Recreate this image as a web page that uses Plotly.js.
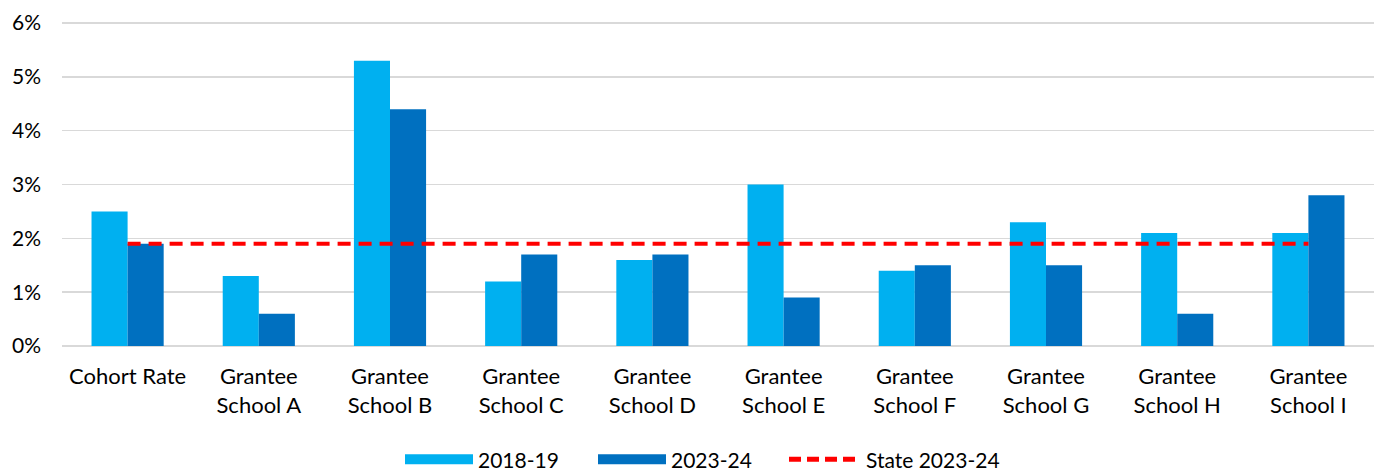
<!DOCTYPE html>
<html>
<head>
<meta charset="utf-8">
<script src="https://cdn.plot.ly/plotly-3.0.1.min.js"></script>
<style>html,body{margin:0;padding:0;background:#fff}#chart{width:1374px;height:471px}</style>
</head>
<body>
<div id="chart"></div>
<script>
const categories = ["Cohort Rate","Grantee<br>School A","Grantee<br>School B","Grantee<br>School C","Grantee<br>School D","Grantee<br>School E","Grantee<br>School F","Grantee<br>School G","Grantee<br>School H","Grantee<br>School I"];
const rate2018 = [2.5, 1.3, 5.3, 1.2, 1.6, 3.0, 1.4, 2.3, 2.1, 2.1];
const rate2023 = [1.9, 0.6, 4.4, 1.7, 1.7, 0.9, 1.5, 1.5, 0.6, 2.8];
const stateRate = 1.9;
const seriesNames = ["2018-19", "2023-24", "State 2023-24"];
const yTicks = [0, 1, 2, 3, 4, 5, 6];
const yTickLabels = ["0%","1%","2%","3%","4%","5%","6%"];

const lightBlue = "#00B0F0", darkBlue = "#0070C0", red = "#FF0000";
const font = "Lato, 'Open Sans', sans-serif";

const traces = [
  {type:"bar", x:categories, y:rate2018, name:seriesNames[0], marker:{color:lightBlue}, showlegend:false, hoverinfo:"y"},
  {type:"bar", x:categories, y:rate2023, name:seriesNames[1], marker:{color:darkBlue}, showlegend:false, hoverinfo:"y"},
  {type:"scatter", mode:"lines", x:categories, y:categories.map(()=>stateRate), name:seriesNames[2],
   line:{color:red, width:4, dash:"13px,8px"}, showlegend:false},
  // legend entries
  {type:"scatter", mode:"lines", x:[null], y:[null], name:seriesNames[0], line:{color:lightBlue, width:14}, legend:"legend"},
  {type:"scatter", mode:"lines", x:[null], y:[null], name:seriesNames[1], line:{color:darkBlue, width:14}, legend:"legend2"},
  {type:"scatter", mode:"lines", x:[null], y:[null], name:seriesNames[2], line:{color:red, width:5, dash:"12px,6px"}, legend:"legend3"}
];

function leg(xpx, iw) {
  return {orientation:"h", xref:"container", yref:"container", x:xpx/1374, xanchor:"left", y:0.024, yanchor:"middle",
          font:{family:font, size:21, color:"#000"}, itemwidth:iw, bgcolor:"rgba(0,0,0,0)"};
}

const layout = {
  width:1374, height:471,
  margin:{l:62, r:0, t:22, b:125},
  paper_bgcolor:"#fff", plot_bgcolor:"#fff",
  font:{family:font, size:21, color:"#000"},
  barmode:"group", bargap:0.45, bargroupgap:0,
  xaxis:{type:"category", showgrid:false, zeroline:false, showline:false, ticks:"", automargin:false,
         ticklabelstandoff:15, tickfont:{family:font, size:22, color:"#000"}, fixedrange:true},
  yaxis:{range:[0,6.02], tickvals:yTicks, ticktext:yTickLabels, showgrid:true, gridcolor:"#d9d9d9", gridwidth:1.5,
         zeroline:true, zerolinecolor:"#d9d9d9", zerolinewidth:1.5, showline:false, ticks:"", automargin:false,
         ticklabelstandoff:20, tickfont:{family:font, size:21, color:"#000"}, fixedrange:true},
  showlegend:true,
  legend:leg(400, 68),
  legend2:leg(593, 68),
  legend3:leg(784, 72)
};

Plotly.newPlot("chart", traces, layout, {displayModeBar:false, staticPlot:true});
</script>
</body>
</html>
